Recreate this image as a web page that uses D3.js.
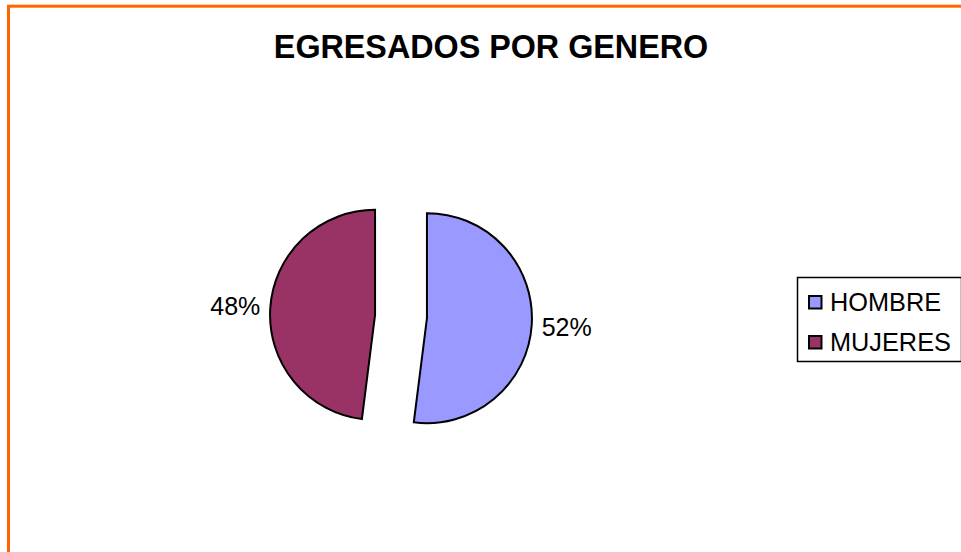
<!DOCTYPE html>
<html>
<head>
<meta charset="utf-8">
<script src="https://cdn.jsdelivr.net/npm/d3@7"></script>
<style>
html,body{margin:0;padding:0;background:#fff;overflow:hidden;}
svg{display:block;}
text{font-family:"Liberation Sans",Arial,sans-serif;}
</style>
</head>
<body>
<svg id="chart" width="961" height="552"></svg>
<script>
const title = "EGRESADOS POR GENERO";
const categories = ["HOMBRE", "MUJERES"];
const values = [52, 48];
const colors = ["#9999FF", "#993366"];

const svg = d3.select("#chart");
const W = 961, H = 552;

// Outer orange frame (extends beyond the right and bottom edges)
svg.append("rect")
  .attr("x", 8.5).attr("y", 6.2)
  .attr("width", W + 20).attr("height", H + 20)
  .attr("fill", "#fff")
  .attr("stroke", "#FF6600")
  .attr("stroke-width", 3);

// Title
svg.append("text")
  .attr("x", 491).attr("y", 57.5)
  .attr("text-anchor", "middle")
  .attr("font-size", 32.3)
  .attr("font-weight", "bold")
  .attr("fill", "#000")
  .text(title);

const data = categories.map((c, i) => ({ name: c, value: values[i], color: colors[i] }));
const pie = d3.pie().sort(null).value(d => d.value).startAngle(0).endAngle(2 * Math.PI);
const arcs = pie(data);

const cx = 401, cy = 316.5, r = 105, explode = 26, labelDist = 140;
const arc = d3.arc().innerRadius(0).outerRadius(r);

const fmt = d3.format(".0%");
const total = d3.sum(values);

const g = svg.append("g").attr("transform", `translate(${cx},${cy})`);
arcs.forEach(a => {
  const mid = (a.startAngle + a.endAngle) / 2;
  const dx = explode * Math.sin(mid), dy = -explode * Math.cos(mid);
  const sg = g.append("g").attr("transform", `translate(${dx},${dy})`);
  sg.append("path")
    .attr("d", arc(a))
    .attr("fill", a.data.color)
    .attr("stroke", "#000")
    .attr("stroke-width", 2)
    .attr("stroke-linejoin", "miter");
  sg.append("text")
    .attr("x", labelDist * Math.sin(mid))
    .attr("y", -labelDist * Math.cos(mid) + 9)
    .attr("text-anchor", "middle")
    .attr("font-size", 25)
    .attr("fill", "#000")
    .text(fmt(a.data.value / total));
});

// Legend
const lg = svg.append("g");
lg.append("rect")
  .attr("x", 797.5).attr("y", 277.5)
  .attr("width", 164).attr("height", 84)
  .attr("fill", "#fff")
  .attr("stroke", "#000")
  .attr("stroke-width", 1.5);
data.forEach((d, i) => {
  const y = 295 + i * 40;
  lg.append("rect")
    .attr("x", 809).attr("y", y + 1)
    .attr("width", 12.5).attr("height", 12.5)
    .attr("fill", d.color)
    .attr("stroke", "#000")
    .attr("stroke-width", 2);
  lg.append("text")
    .attr("x", 830).attr("y", y + 15.5)
    .attr("font-size", 25.3)
    .attr("fill", "#000")
    .text(d.name);
});
</script>
</body>
</html>
